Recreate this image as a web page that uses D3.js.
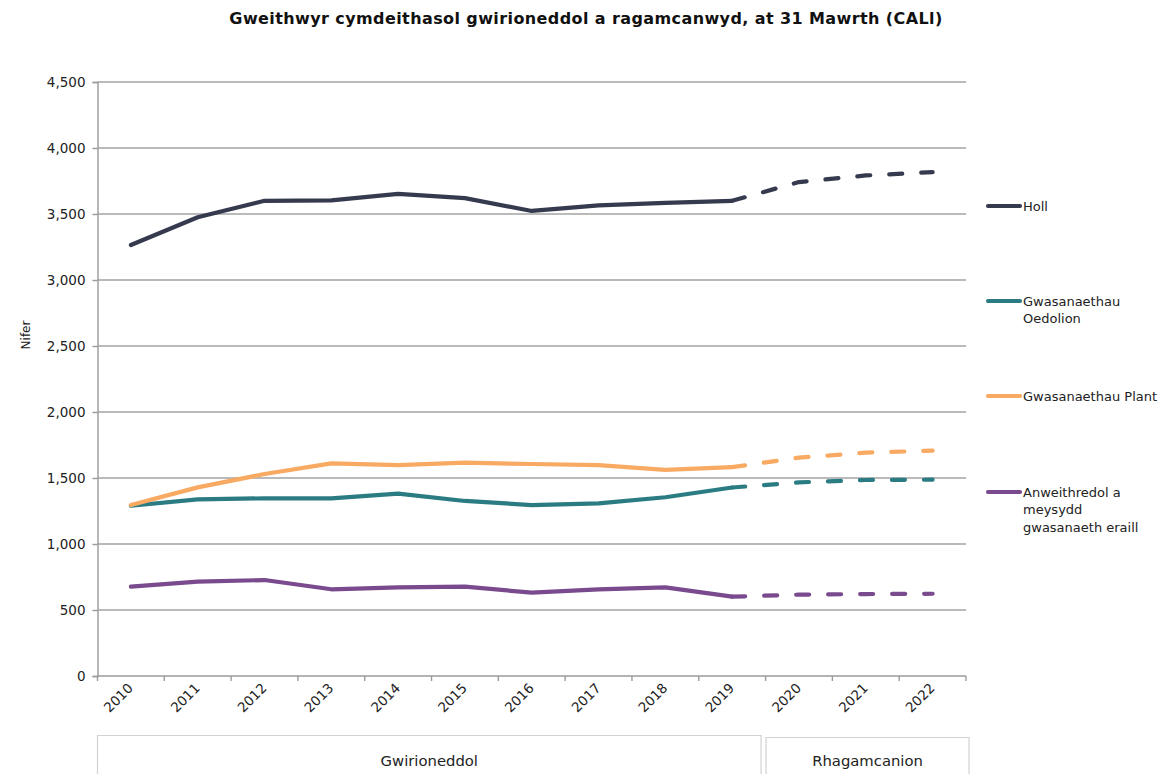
<!DOCTYPE html>
<html>
<head>
<meta charset="utf-8">
<script src="https://cdn.jsdelivr.net/npm/d3@7"></script>
<style>
  html, body { margin: 0; padding: 0; background: #fff; }
  svg { display: block; font-family: "DejaVu Sans", Verdana, sans-serif; }
</style>
</head>
<body>
<svg id="chart" width="1162" height="774"></svg>
<script>
// Years on the category axis; the last three are projections
const years = ["2010","2011","2012","2013","2014","2015","2016","2017","2018","2019","2020","2021","2022"];
const lastActualIndex = 9; // 2019

const seriesNames = ["Holl", "Gwasanaethau Oedolion", "Gwasanaethau Plant", "Anweithredol a meysydd gwasanaeth eraill"];
const legendLines = [["Holl"], ["Gwasanaethau", "Oedolion"], ["Gwasanaethau Plant"], ["Anweithredol a", "meysydd", "gwasanaeth eraill"]];
const seriesColors = ["#363a4f", "#2a7c82", "#f8a962", "#7a4a8e"];

const holl      = [3265, 3475, 3600, 3603, 3652, 3620, 3523, 3565, 3585, 3600, 3742, 3792, 3817];
const oedolion  = [1290, 1338, 1346, 1346, 1382, 1326, 1295, 1308, 1354, 1428, 1467, 1485, 1487];
const plant     = [1295, 1429, 1530, 1611, 1598, 1616, 1606, 1598, 1561, 1582, 1654, 1692, 1707];
const eraill    = [677, 715, 727, 657, 672, 677, 631, 656, 672, 601, 616, 621, 623];
const seriesValues = [holl, oedolion, plant, eraill];

const yTicks = [0, 500, 1000, 1500, 2000, 2500, 3000, 3500, 4000, 4500];
const groups = [
  { label: "Gwirioneddol", from: "2010", to: "2019" },
  { label: "Rhagamcanion", from: "2020", to: "2022" }
];

const title = "Gweithwyr cymdeithasol gwirioneddol a ragamcanwyd, at 31 Mawrth (CALl)";
const yTitle = "Nifer";

const svg = d3.select("#chart");
const plotLeft = 97.5, plotRight = 966, plotTop = 82, plotBottom = 676;

const x = d3.scaleBand().domain(years).range([plotLeft, plotRight]).padding(0);
const y = d3.scaleLinear().domain([0, 4500]).range([plotBottom, plotTop]);
const cx = d => x(d) + x.bandwidth() / 2;

// Title
svg.append("text")
  .attr("x", 586).attr("y", 24)
  .attr("text-anchor", "middle")
  .attr("font-size", 16).attr("font-weight", "bold")
  .attr("letter-spacing", 0.4)
  .attr("fill", "#111")
  .text(title);

// Horizontal gridlines
svg.append("g")
  .selectAll("line")
  .data(yTicks.filter(t => t > 0))
  .join("line")
  .attr("x1", plotLeft).attr("x2", plotRight)
  .attr("y1", d => y(d)).attr("y2", d => y(d))
  .attr("stroke", "#a3a3a3").attr("stroke-width", 1.4);

// Y axis
const yAxis = svg.append("g")
  .attr("transform", `translate(${plotLeft},0)`)
  .call(d3.axisLeft(y).tickValues(yTicks).tickSize(5).tickPadding(7).tickFormat(d3.format(",")));
yAxis.select(".domain").attr("stroke", "#9a9a9a").attr("stroke-width", 1.4);
yAxis.selectAll(".tick line").attr("stroke", "#9a9a9a").attr("stroke-width", 1.4);
yAxis.selectAll(".tick text").attr("font-size", 13.5).attr("fill", "#222")
  .attr("font-family", "\"DejaVu Sans\", Verdana, sans-serif");

// X axis: ticks at category boundaries
const xAxisG = svg.append("g");
xAxisG.append("line")
  .attr("x1", plotLeft).attr("x2", plotRight)
  .attr("y1", plotBottom).attr("y2", plotBottom)
  .attr("stroke", "#9a9a9a").attr("stroke-width", 1.4);
xAxisG.selectAll("line.tick")
  .data(years.concat(["end"]))
  .join("line")
  .attr("class", "tick")
  .attr("x1", (d, i) => i < years.length ? x(d) : plotRight)
  .attr("x2", (d, i) => i < years.length ? x(d) : plotRight)
  .attr("y1", plotBottom).attr("y2", plotBottom + 5)
  .attr("stroke", "#9a9a9a").attr("stroke-width", 1.4);
xAxisG.selectAll("text")
  .data(years)
  .join("text")
  .attr("transform", d => `translate(${cx(d) + 3},${plotBottom + 13}) rotate(-45)`)
  .attr("text-anchor", "end")
  .attr("font-size", 13.5).attr("fill", "#222")
  .text(d => d);

// Y axis title
svg.append("text")
  .attr("transform", "translate(30,335) rotate(-90)")
  .attr("text-anchor", "middle")
  .attr("font-size", 12).attr("fill", "#222")
  .text(yTitle);

// Category group boxes below the axis
const groupG = svg.append("g");
groups.forEach((g, i) => {
  const x0 = x(g.from) + (i === 0 ? 0 : 0.5);
  const x1 = x(g.to) + x.bandwidth() - (i === 0 ? 4.5 : -3);
  const yTop = i === 0 ? 735.5 : 737.5;
  groupG.append("path")
    .attr("d", `M${x0},780 V${yTop} H${x1} V780`)
    .attr("fill", "none").attr("stroke", "#d2d2d2").attr("stroke-width", 1.2);
  groupG.append("text")
    .attr("x", (x0 + x1) / 2).attr("y", 766)
    .attr("text-anchor", "middle")
    .attr("font-size", 14.8).attr("fill", "#222")
    .text(g.label);
});

// Series lines: solid for actual values, dashed for projections
const line = d3.line().x(d => cx(d.year)).y(d => y(d.value));
seriesValues.forEach((vals, s) => {
  const pts = vals.map((v, i) => ({ year: years[i], value: v, i }));
  svg.append("path")
    .datum(pts.filter(p => p.i <= lastActualIndex))
    .attr("d", line)
    .attr("fill", "none")
    .attr("stroke", seriesColors[s]).attr("stroke-width", 4.2)
    .attr("stroke-linecap", "round").attr("stroke-linejoin", "round");
  svg.append("path")
    .datum(pts.filter(p => p.i >= lastActualIndex))
    .attr("d", line)
    .attr("fill", "none")
    .attr("stroke", seriesColors[s]).attr("stroke-width", 4.2)
    .attr("stroke-dasharray", "13,19")
    .attr("stroke-linecap", "round").attr("stroke-linejoin", "round");
});

// Legend
const legendY = [206, 301, 396, 492];
const legend = svg.append("g");
seriesNames.forEach((name, s) => {
  legend.append("line")
    .attr("x1", 988).attr("x2", 1020)
    .attr("y1", legendY[s]).attr("y2", legendY[s])
    .attr("stroke", seriesColors[s]).attr("stroke-width", 4.2)
    .attr("stroke-linecap", "round");
  const t = legend.append("text")
    .attr("x", 1023).attr("y", legendY[s] + 4.5)
    .attr("font-size", 13).attr("fill", "#222");
  legendLines[s].forEach((ln, k) => {
    t.append("tspan").attr("x", 1023).attr("dy", k === 0 ? 0 : 17.5).text(ln);
  });
});
</script>
</body>
</html>
